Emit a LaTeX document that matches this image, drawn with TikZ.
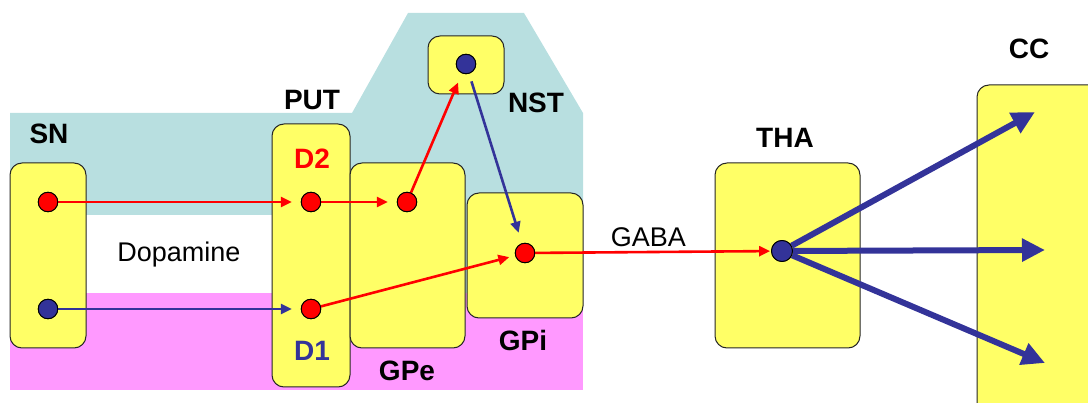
\documentclass[tikz,border=0pt]{standalone}
\usepackage{fontspec}
\setmainfont{Liberation Sans}
\usetikzlibrary{arrows.meta}
\definecolor{boxyellow}{HTML}{FFFF66}
\definecolor{bgcyan}{HTML}{B8DFE0}
\definecolor{bgpink}{HTML}{FF99FF}
\definecolor{nblue}{HTML}{333399}
\definecolor{nred}{HTML}{FF0000}
\begin{document}
\begin{tikzpicture}[x=1pt,y=-1pt,
  area/.style={draw=black!85, fill=boxyellow, rounded corners=12pt, line width=1pt, inner sep=0pt},
  dot/.style={circle, draw=black, line width=0.9pt, minimum size=19.5pt, inner sep=0pt},
  reddot/.style={dot, fill=nred},
  bluedot/.style={dot, fill=nblue},
  redarrow/.style={draw=nred, line width=2.6pt, -{Triangle[length=11pt,width=10pt]}},
  bluearrow/.style={draw=nblue, line width=2.6pt, -{Triangle[length=11pt,width=10pt]}},
  fatarrow/.style={draw=nblue, line width=6pt, -{Triangle[length=23pt,width=22pt]}},
  lab/.style={font=\fontsize{28}{28}\selectfont\bfseries, inner sep=0pt, anchor=base},
  txt/.style={font=\fontsize{27}{27}\selectfont, inner sep=0pt, anchor=base}]
\useasboundingbox (0,0) rectangle (1088,403);
\clip (0,0) rectangle (1088,403);
% background regions
\fill[bgcyan] (10,113) -- (352,113) -- (408,13) -- (524,13) -- (583,113) -- (583,293) -- (272,293) -- (272,215) -- (10,215) -- cycle;
\fill[bgpink] (10,293) rectangle (583,390);
% boxes
\node[area, minimum width=76pt, minimum height=185pt] (sn) at (48,255.5) {};
\node[area, minimum width=78pt, minimum height=263pt] (put) at (311,255.5) {};
\node[area, minimum width=115pt, minimum height=185pt] (gpe) at (407.5,255.5) {};
\node[area, minimum width=116pt, minimum height=125pt] (gpib) at (525,255.5) {};
\node[area, minimum width=76pt, minimum height=58pt] (nstb) at (466,65) {};
\node[area, minimum width=145pt, minimum height=185pt] (thab) at (787.5,255.5) {};
\node[area, minimum width=140pt, minimum height=345pt] (cc) at (1047,257.5) {};
% dots
\node[reddot] (sn1) at (48,202) {};
\node[bluedot] (sn2) at (48,309) {};
\node[reddot] (d2) at (311,202) {};
\node[reddot] (d1) at (311,309) {};
\node[reddot] (gpedot) at (407,202) {};
\node[reddot] (gpi) at (525,253) {};
\node[bluedot] (nst) at (466,64) {};
\node[bluedot, minimum size=21pt] (tha) at (782,251) {};
\coordinate (c1) at (1035,112);
\coordinate (c2) at (1045,250);
\coordinate (c3) at (1045,363);
% connectors
\draw[redarrow, shorten >=9pt] (sn1) -- (d2);
\draw[bluearrow, shorten >=9pt] (sn2) -- (d1);
\draw[redarrow, shorten >=9pt] (d2) -- (gpedot);
\draw[redarrow, shorten >=10pt] (gpedot) -- (nst);
\draw[bluearrow, shorten <=8pt, shorten >=11pt] (nst) -- (gpi);
\draw[redarrow, shorten >=6pt] (d1) -- (gpi);
\draw[redarrow, shorten >=1pt] (gpi) -- node[txt, above=4pt, pos=0.48] (gaba) {GABA} (tha);
\draw[fatarrow] (tha) -- (c1);
\draw[fatarrow] (tha) -- (c2);
\draw[fatarrow] (tha) -- (c3);
% redraw dots on top
\node[reddot] at (sn1) {};
\node[bluedot] at (sn2) {};
\node[reddot] at (d2) {};
\node[reddot] at (d1) {};
\node[reddot] at (gpedot) {};
\node[reddot] at (gpi) {};
\node[bluedot] at (nst) {};
\node[bluedot, minimum size=21pt] at (tha) {};
% labels
\node[lab] (lsn) at (49,144) {SN};
\node[lab] (lput) at (312,110) {PUT};
\node[lab] (lnst) at (536,113) {NST};
\node[lab, text=nred] (ld2) at (312,169) {D2};
\node[lab, text=nblue] (ld1) at (312,361) {D1};
\node[lab] (lgpe) at (407,381) {GPe};
\node[lab] (lgpi) at (523,351) {GPi};
\node[lab] (ltha) at (785,148) {THA};
\node[lab] (lcc) at (1029,59) {CC};
\node[txt] (dopa) at (179,262) {Dopamine};
\end{tikzpicture}
\end{document}
